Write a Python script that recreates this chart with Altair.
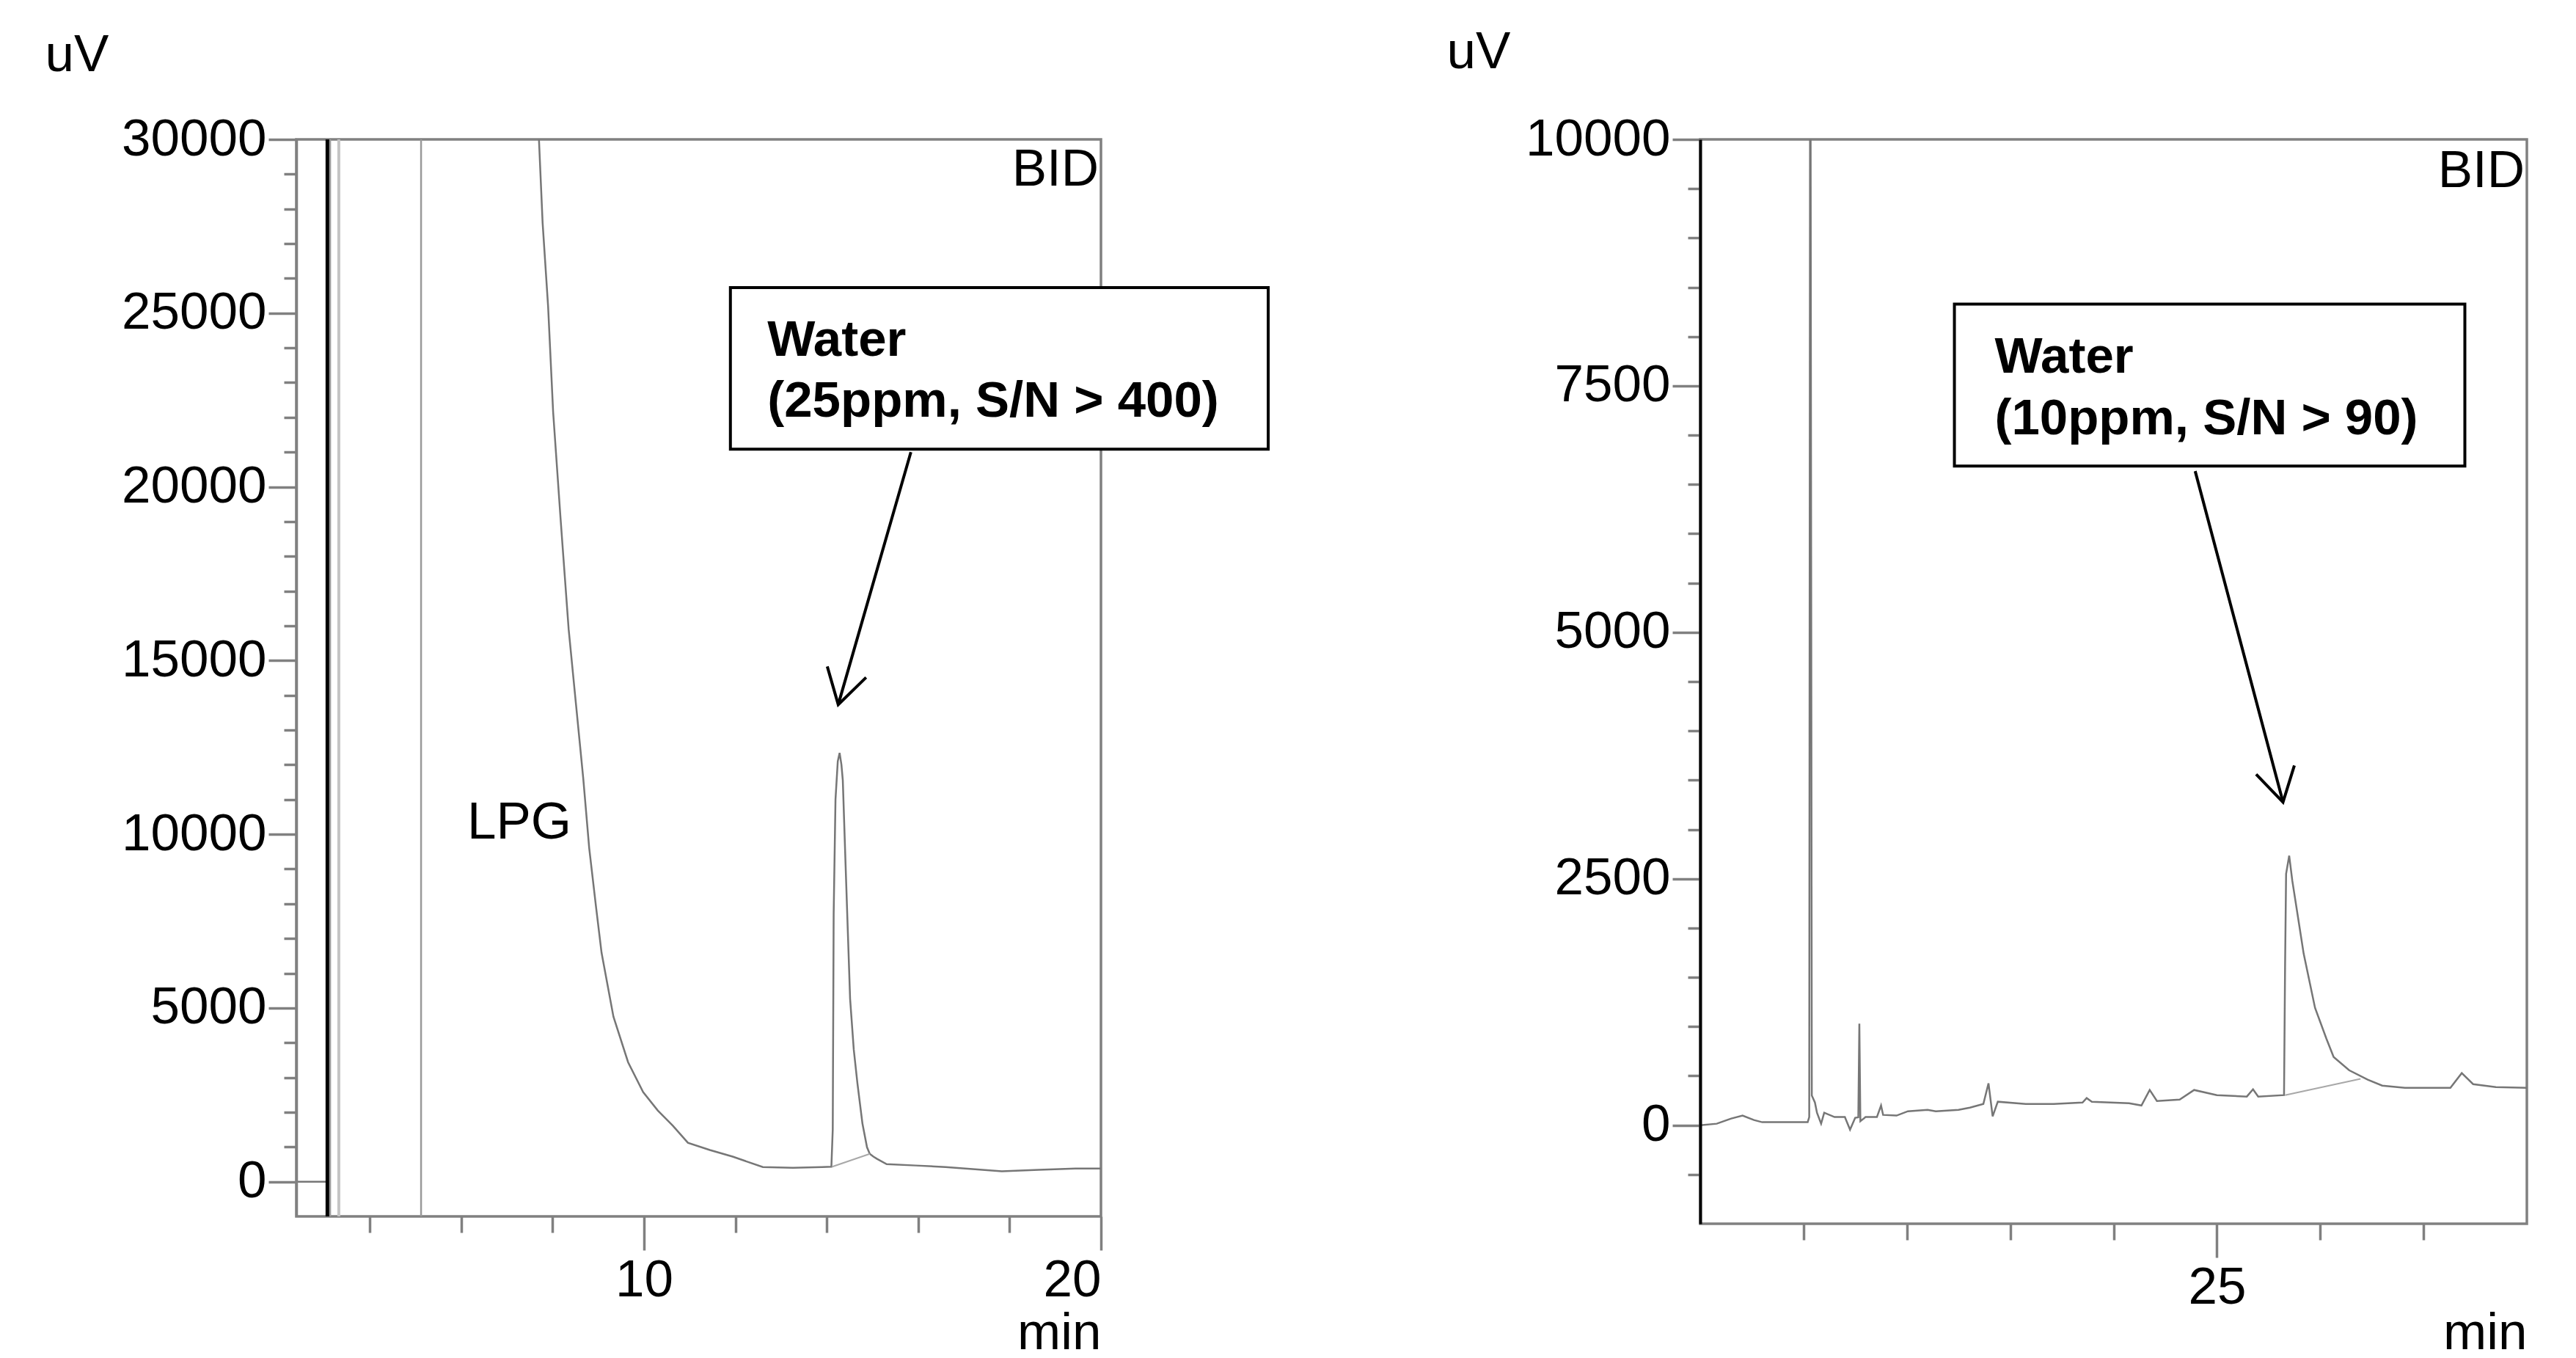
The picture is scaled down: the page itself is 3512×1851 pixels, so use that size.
import altair as alt
import pandas as pd

FONT = "Liberation Sans"

# ---------------- left chromatogram (LPG sample) ----------------
left_time = [2.39, 3.07, 3.07, 7.62, 7.70, 7.78, 7.90, 8.01, 8.17, 8.35, 8.51, 8.67, 8.80, 8.95,
             9.07, 9.33, 9.65, 9.98, 10.30, 10.63, 10.96, 11.44, 11.94, 12.60, 13.26, 13.90,
             14.10, 14.13, 14.15, 14.19, 14.24, 14.28, 14.32, 14.35, 14.41, 14.46, 14.51, 14.59,
             14.67, 14.78, 14.88, 14.94, 15.02, 15.10, 15.31, 15.95, 16.60, 17.03, 17.83, 18.64,
             19.44, 20.00]
left_signal = [0, 0, 40000, 40000, 30000, 27600, 25200, 22160, 19140, 15900, 13750, 11600, 9600, 7900,
               6590, 4750, 3440, 2580, 2050, 1610, 1120, 910, 720, 420, 400, 420,
               430, 1500, 7700, 11000, 12100, 12340, 12000, 11550, 9150, 7200, 5260, 3800,
               2830, 1670, 990, 800, 720, 655, 505, 465, 420, 380, 300, 340,
               380, 380]
left_black_lines = [3.07]
left_grey_lines = [3.13, 5.12]
left_light_lines = [3.32]
left_base_time = [14.12, 14.94]
left_base_signal = [430, 800]
left_x_major = [10, 20]
left_x_minor = [4, 6, 8, 12, 14, 16, 18]
left_y_major = [0, 5000, 10000, 15000, 20000, 25000, 30000]
left_y_minor = [v for v in range(1000, 30000, 1000) if v % 5000]
left_box_time = [11.89, 23.66]
left_box_signal = [21085, 25733]
left_note_lines = ["Water", "(25ppm, S/N > 400)"]
left_note_time = [12.70, 12.70]
left_note_signal = [23768, 22014]
left_shaft_time = [15.84, 14.25]
left_shaft_signal = [21000, 13732]
left_head_time = [14.01, 14.25, 14.86]
left_head_signal = [14831, 13732, 14514]
left_peak_label = ["LPG"]
left_peak_label_time = [6.13]
left_peak_label_signal = [9867]
left_detector = ["BID"]
left_detector_time = [20.0]
left_detector_signal = [28670]

# ---------------- right chromatogram ----------------
right_time = [20.00, 20.16, 20.30, 20.41, 20.52, 20.60, 21.04, 21.055, 21.065, 21.08, 21.11, 21.13,
              21.17, 21.20, 21.30, 21.40, 21.45, 21.50, 21.53, 21.54, 21.55, 21.60, 21.71, 21.75,
              21.77, 21.90, 22.01, 22.20, 22.28, 22.50, 22.61, 22.74, 22.79, 22.83, 22.88, 23.15,
              23.42, 23.70, 23.74, 23.79, 24.15, 24.27, 24.35, 24.42, 24.64, 24.78, 25.00, 25.29,
              25.35, 25.40, 25.65, 25.66, 25.67, 25.70, 25.73, 25.84, 25.95, 26.06, 26.13, 26.28,
              26.46, 26.60, 26.82, 27.26, 27.37, 27.48, 27.70, 28.00]
right_signal = [0, 15, 67, 97, 52, 30, 30, 82, 13000, 300, 230, 126,
                15, 126, 82, 82, -45, 75, 80, 1030, 40, 82, 82, 200,
                104, 97, 141, 156, 141, 156, 178, 215, 424, 89, 238, 215,
                215, 230, 275, 238, 223, 200, 357, 245, 260, 357, 305, 290,
                364, 290, 305, 1600, 2550, 2734, 2480, 1740, 1190, 877, 691, 557,
                461, 401, 379, 379, 528, 416, 386, 379]
right_base_time = [25.66, 26.39]
right_base_signal = [305, 470]
right_x_major = [25]
right_x_minor = [21, 22, 23, 24, 26, 27]
right_y_major = [0, 2500, 5000, 7500, 10000]
right_y_minor = [v for v in range(-500, 10000, 500) if v % 2500]
right_box_time = [22.46, 27.40]
right_box_signal = [6687, 8329]
right_note_lines = ["Water", "(10ppm, S/N > 90)"]
right_note_time = [22.85, 22.85]
right_note_signal = [7631, 7006]
right_shaft_time = [24.79, 25.64]
right_shaft_signal = [6635, 3277]
right_head_time = [25.38, 25.64, 25.75]
right_head_signal = [3559, 3277, 3649]
right_detector = ["BID"]
right_detector_time = [28.0]
right_detector_signal = [9518]


def df_xy(t, s):
    return pd.DataFrame({"t": t, "uv": s, "i": list(range(len(t)))})


def panel(p):
    xs = alt.Scale(domain=p["xdom"], nice=False, zero=False)
    ys = alt.Scale(domain=p["ydom"], nice=False, zero=False)
    X = lambda f="t": alt.X(f + ":Q", scale=xs, axis=None)
    Y = lambda f="uv": alt.Y(f + ":Q", scale=ys, axis=None)

    minor_x = alt.Axis(orient="bottom", values=p["xminor"], tickSize=22, labels=False,
                       domain=False, title=None, zindex=1)
    major_x = alt.Axis(orient="bottom", values=p["xmajor"], tickSize=46, labelPadding=6,
                       domain=False, title="min", titleX=p["w"], titleY=p["minY"],
                       titleAlign="right", titleBaseline="alphabetic", titleAngle=0,
                       labelFlush=True, format="d", labelLimit=0, zindex=1)
    minor_y = alt.Axis(orient="left", values=p["yminor"], tickSize=17, labels=False,
                       domain=False, title=None, zindex=1)
    major_y = alt.Axis(orient="left", values=p["ymajor"], tickSize=38, labelPadding=3,
                       domain=True, domainColor=p["ydomain_color"], domainWidth=p["ydomain_width"],
                       title="uV", titleAngle=0, titleX=p["uvX"], titleY=p["uvY"],
                       titleAlign="left", titleBaseline="alphabetic", labelBaseline="middle",
                       format="d", labelLimit=0, zindex=1)

    layers = []
    layers.append(
        alt.Chart(df_xy(p["time"], p["signal"])).mark_line(color="#767676", strokeWidth=2.5, clip=True)
        .encode(x=alt.X("t:Q", scale=xs, axis=minor_x), y=alt.Y("uv:Q", scale=ys, axis=minor_y),
                order="i:Q")
    )
    layers.append(
        alt.Chart(df_xy(p["base_t"], p["base_s"])).mark_line(color="#a8a8a8", strokeWidth=2, clip=True)
        .encode(x=alt.X("t:Q", scale=xs, axis=major_x), y=alt.Y("uv:Q", scale=ys, axis=major_y),
                order="i:Q")
    )
    for vals, color, width in p.get("rules", []):
        layers.append(
            alt.Chart(pd.DataFrame({"t": vals})).mark_rule(color=color, strokeWidth=width, clip=True)
            .encode(x=X())
        )
    for txt, tt, ss, align, dx in p["labels"]:
        layers.append(
            alt.Chart(pd.DataFrame({"t": tt, "uv": ss, "txt": txt}))
            .mark_text(font=FONT, fontSize=71, color="black", baseline="alphabetic",
                       align=align, dx=dx)
            .encode(x=X(), y=Y(), text="txt:N")
        )
    box = pd.DataFrame({"t1": [p["box_t"][0]], "t2": [p["box_t"][1]],
                        "s1": [p["box_s"][0]], "s2": [p["box_s"][1]]})
    layers.append(
        alt.Chart(box).mark_rect(fill="white", stroke="black", strokeWidth=4)
        .encode(x=X("t1"), x2="t2:Q", y=Y("s1"), y2="s2:Q")
    )
    layers.append(
        alt.Chart(pd.DataFrame({"t": p["note_t"], "uv": p["note_s"], "txt": p["notes"]}))
        .mark_text(font=FONT, fontSize=69, fontWeight="bold", color="black",
                   align="left", baseline="alphabetic")
        .encode(x=X(), y=Y(), text="txt:N")
    )
    layers.append(
        alt.Chart(df_xy(p["shaft_t"], p["shaft_s"])).mark_line(color="black", strokeWidth=4)
        .encode(x=X(), y=Y(), order="i:Q")
    )
    layers.append(
        alt.Chart(df_xy(p["head_t"], p["head_s"])).mark_line(color="black", strokeWidth=4)
        .encode(x=X(), y=Y(), order="i:Q")
    )
    return (alt.layer(*layers)
            .resolve_axis(x="independent", y="independent")
            .properties(width=p["w"], height=p["h"]))


left = panel(dict(
    time=left_time, signal=left_signal, xdom=[2.39, 20], ydom=[-1000, 30000],
    xmajor=left_x_major, xminor=left_x_minor, ymajor=left_y_major, yminor=left_y_minor,
    w=1097, h=1468, minY=180, uvX=-343, uvY=-94,
    ydomain_color="#808080", ydomain_width=3.5,
    base_t=left_base_time, base_s=left_base_signal,
    rules=[(left_light_lines, "#c4c4c4", 4), (left_grey_lines, "#999999", 2.5),
           (left_black_lines, "black", 5)],
    labels=[(left_peak_label, left_peak_label_time, left_peak_label_signal, "left", 0),
            (left_detector, left_detector_time, left_detector_signal, "right", -3)],
    box_t=left_box_time, box_s=left_box_signal,
    notes=left_note_lines, note_t=left_note_time, note_s=left_note_signal,
    shaft_t=left_shaft_time, shaft_s=left_shaft_signal,
    head_t=left_head_time, head_s=left_head_signal,
))

right = panel(dict(
    time=right_time, signal=right_signal, xdom=[20, 28], ydom=[-1000, 10000],
    xmajor=right_x_major, xminor=right_x_minor, ymajor=right_y_major, yminor=right_y_minor,
    w=1127, h=1478, minY=170, uvX=-346, uvY=-98,
    ydomain_color="black", ydomain_width=4,
    base_t=right_base_time, base_s=right_base_signal,
    rules=[],
    labels=[(right_detector, right_detector_time, right_detector_signal, "right", -3)],
    box_t=right_box_time, box_s=right_box_signal,
    notes=right_note_lines, note_t=right_note_time, note_s=right_note_signal,
    shaft_t=right_shaft_time, shaft_s=right_shaft_signal,
    head_t=right_head_time, head_s=right_head_signal,
))

chart = alt.hconcat(
    left, right, spacing=817, bounds="flush",
    autosize=alt.AutoSizeParams(type="none"),
    padding={"left": 396, "top": 182, "right": 3100, "bottom": 1661},
    title=alt.TitleParams("Typical Chromatograms", anchor="start", frame="group", orient="top",
                          offset=192, dx=-294, baseline="alphabetic", font=FONT, fontSize=98,
                          fontWeight="bold", color="#1F3864"),
).configure_view(
    stroke="#808080", strokeWidth=3.5
).configure_axis(
    labelFont=FONT, labelFontSize=71, labelColor="black",
    tickColor="#808080", tickWidth=3.5, grid=False,
    titleFont=FONT, titleFontSize=71, titleFontWeight="normal", titleColor="black",
    labelOverlap=False
)

chart.save("out.html", embed_options={"renderer": "svg", "actions": False})
